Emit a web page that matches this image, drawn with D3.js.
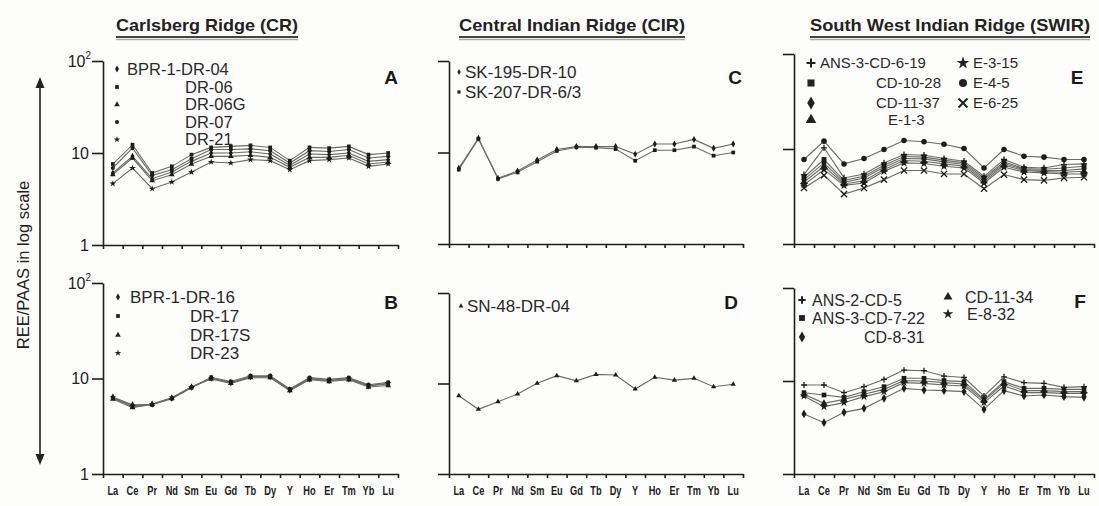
<!DOCTYPE html>
<html><head><meta charset="utf-8">
<script src="https://cdn.jsdelivr.net/npm/d3@7"></script>
<style>html,body{margin:0;padding:0;background:#fdfdfb;}svg{display:block;}</style>
</head><body>
<svg id="chart" width="1099" height="506"></svg>
<script>
// ---------------- DATA ----------------
const elements = ["La","Ce","Pr","Nd","Sm","Eu","Gd","Tb","Dy","Y","Ho","Er","Tm","Yb","Lu"];
const yTickValues = [1, 10, 100];
const titles = ["Carlsberg Ridge (CR)", "Central Indian Ridge (CIR)", "South West Indian Ridge (SWIR)"];
const yAxisTitle = "REE/PAAS in log scale";

// Panel A – Carlsberg Ridge
const namesA = ["BPR-1-DR-04","DR-06","DR-06G","DR-07","DR-21"];
const symbolsA = ["diamond","square","triangle","circle","star"];
const valuesA = [
  [6.06,9.2,5.26,6.21,8.11,10.0,10.0,10.3,9.75,7.35,9.75,9.6,10.0,8.11,8.47],
  [7.59,12.3,6.06,7.16,9.6,11.5,11.8,12.1,11.5,8.26,11.5,11.3,11.8,9.6,10.0],
  [5.82,8.8,5.0,5.81,7.59,9.2,9.2,9.44,8.97,6.98,8.97,8.97,9.44,7.59,7.98],
  [6.87,11.3,5.72,6.59,8.68,10.9,10.9,11.1,10.6,7.79,10.6,10.4,10.9,8.82,9.2],
  [4.64,6.87,4.09,4.84,6.21,7.98,7.79,8.47,8.26,6.59,8.26,8.47,8.82,7.16,7.59]
];
// Panel B – Carlsberg Ridge
const namesB = ["BPR-1-DR-16","DR-17","DR-17S","DR-23"];
const symbolsB = ["diamond","square","triangle","star"];
const valuesB = [
  [6.4,5.3,5.37,6.2,8.09,10.05,9.04,10.4,10.4,7.58,9.88,9.48,9.88,8.35,8.75],
  [6.25,5.07,5.3,6.15,8.0,10.3,9.3,10.7,10.7,7.75,10.2,9.8,10.2,8.6,9.1],
  [6.1,4.95,5.37,6.25,8.2,9.9,8.9,10.2,10.2,7.45,9.7,9.3,9.7,8.15,8.45],
  [6.3,5.15,5.4,6.3,8.15,10.1,9.1,10.5,10.5,7.65,10.0,9.6,10.0,8.45,8.9]
];
// Panel C – Central Indian Ridge
const namesC = ["SK-195-DR-10","SK-207-DR-6/3"];
const symbolsC = ["diamond","square"];
const valuesC = [
  [6.72,14.3,5.22,6.28,8.28,10.8,11.6,11.6,11.6,9.6,12.4,12.4,13.9,11.1,12.4],
  [6.5,14.1,5.15,6.07,7.94,10.4,11.4,11.3,10.9,8.13,10.6,10.6,11.6,9.23,10.0]
];
// Panel D – Central Indian Ridge
const namesD = ["SN-48-DR-04"];
const symbolsD = ["triangle"];
const valuesD = [
  [7.33,5.19,6.3,7.65,10.05,12.2,10.7,12.6,12.4,8.7,11.7,10.9,11.4,9.22,9.8]
];
// Panel E – South West Indian Ridge
const namesE = ["ANS-3-CD-6-19","CD-10-28","CD-11-37","E-1-3","E-3-15","E-4-5","E-6-25"];
const symbolsE = ["plus","square","diamond","triangle","star","circle","x"];
const valuesE = [
  [5.38,10.3,4.96,5.46,7.14,8.75,8.61,7.94,7.44,5.16,7.75,6.42,6.32,6.86,6.97],
  [5.04,7.75,4.68,5.16,6.75,8.34,8.21,7.63,7.14,4.96,7.32,6.22,6.12,6.32,6.58],
  [4.76,7.14,4.46,4.96,6.42,7.94,7.87,7.32,6.86,4.76,7.03,6.07,5.93,5.93,6.17],
  [4.50,6.58,4.28,4.64,6.07,7.56,7.44,6.97,6.58,4.57,6.75,5.93,5.78,5.69,5.83],
  [4.21,6.07,4.14,4.39,5.83,7.14,7.03,6.58,6.32,4.39,6.42,5.73,5.60,5.46,5.46],
  [7.75,12.1,6.97,7.94,9.88,12.3,11.9,11.2,10.1,6.32,9.88,8.40,8.21,7.75,7.75],
  [3.88,5.29,3.35,3.88,4.76,5.93,5.93,5.46,5.46,3.82,5.38,4.76,4.68,4.96,5.04]
];
// Panel F – South West Indian Ridge
const namesF = ["ANS-2-CD-5","ANS-3-CD-7-22","CD-8-31","CD-11-34","E-8-32"];
const symbolsF = ["plus","square","diamond","triangle","star"];
const valuesF = [
  [9.06,9.06,7.49,8.69,10.4,13.1,12.9,11.3,10.9,6.90,11.1,9.6,9.44,8.55,8.69],
  [7.49,7.07,6.67,7.68,8.69,10.7,10.7,10.1,9.84,6.35,9.84,8.34,8.34,8.13,8.13],
  [4.42,3.56,4.60,5.08,6.51,8.34,8.0,7.87,7.68,4.96,7.87,6.90,7.07,6.79,6.67],
  [7.19,5.75,6.35,7.19,8.13,10.1,10.0,9.6,9.29,6.15,9.44,7.87,7.87,7.68,7.68],
  [6.90,5.30,5.85,6.79,7.68,9.6,9.44,9.06,8.84,5.85,8.84,7.49,7.49,7.37,7.37]
];

// ---------------- LAYOUT ----------------
const FONT = "'Liberation Sans', Arial, Helvetica, sans-serif";
const panels = [
  {id:"A", names:namesA, syms:symbolsA, vals:valuesA, x0:103, x1:398, yt:61, yb:245, yLabels:true, xLabels:false,
   letter:[391,77], fs:16.5, legSym:14, markSize:14,
   legend:[[117,69,127],[117,87,185],[117,104.5,185],[117,122,185],[117,139.5,185]]},
  {id:"B", names:namesB, syms:symbolsB, vals:valuesB, x0:103, x1:398, yt:283, yb:474, yLabels:true, xLabels:true,
   letter:[391,302], fs:17, legSym:14, markSize:14,
   legend:[[118,297,130],[118,316,190],[118,335,190],[118,353,190]]},
  {id:"C", names:namesC, syms:symbolsC, vals:valuesC, x0:449, x1:743, yt:61, yb:244, yLabels:false, xLabels:false,
   letter:[735,77], fs:17, legSym:10, markSize:14,
   legend:[[459,72,465],[459,92,465]]},
  {id:"D", names:namesD, syms:symbolsD, vals:valuesD, x0:449, x1:743, yt:293, yb:474, yLabels:false, xLabels:true,
   letter:[731,302], fs:17, legSym:10, markSize:12,
   legend:[[461,306,467]]},
  {id:"E", names:namesE, syms:symbolsE, vals:valuesE, x0:794, x1:1094, yt:54, yb:244, yLabels:false, xLabels:false,
   letter:[1077,77], fs:15, legSym:50, markSize:24,
   legend:[[811,63,820],[811,83,876],[811,103,876],[811,120,888],[963,63,973],[963,83,973],[963,103,973]]},
  {id:"F", names:namesF, syms:symbolsF, vals:valuesF, x0:794, x1:1094, yt:288, yb:474, yLabels:false, xLabels:true,
   letter:[1080,301], fs:16, legSym:34, markSize:22,
   legend:[[802,300,812],[802,318,812],[802,337,864],[948,297,965],[948,314,967]]}
];
const titlePos = [{cx:207, w:182}, {cx:572, w:226}, {cx:950, w:280}];

// ---------------- DRAW ----------------
const svg = d3.select("#chart");
svg.append("rect").attr("width",1099).attr("height",506).attr("fill","#fdfdfb");

const xType = {draw(c, s){const r = Math.sqrt(s)/2; c.moveTo(-r,-r); c.lineTo(r,r); c.moveTo(r,-r); c.lineTo(-r,r);}};
const plusType = {draw(c, s){const r = Math.sqrt(s)/2; c.moveTo(-r,0); c.lineTo(r,0); c.moveTo(0,-r); c.lineTo(0,r);}};
const symMap = {
  diamond:{t:d3.symbolDiamond, stroke:false}, square:{t:d3.symbolSquare, stroke:false},
  triangle:{t:d3.symbolTriangle, stroke:false}, circle:{t:d3.symbolCircle, stroke:false},
  star:{t:d3.symbolStar, stroke:false}, plus:{t:plusType, stroke:true}, x:{t:xType, stroke:true}
};
function drawSymbol(g, name, size, x, y, color){
  const m = symMap[name];
  const s = m.stroke ? size*1.6 : size;
  const p = g.append("path").attr("d", d3.symbol().type(m.t).size(s)()).attr("transform", `translate(${x},${y})`);
  if (m.stroke) p.attr("fill","none").attr("stroke",color).attr("stroke-width", size > 30 ? 2 : 1.3);
  else p.attr("fill",color);
}

// titles
titles.forEach((t, i) => {
  const tp = titlePos[i];
  svg.append("text").attr("x", tp.cx).attr("y", 31).attr("text-anchor","middle")
    .attr("font-family", FONT).attr("font-weight","bold").attr("font-size",17)
    .attr("textLength", tp.w).attr("lengthAdjust","spacingAndGlyphs").attr("fill","#222").text(t);
  svg.append("line").attr("x1", tp.cx - tp.w/2).attr("x2", tp.cx + tp.w/2).attr("y1",37).attr("y2",37)
    .attr("stroke","#444").attr("stroke-width",2);
  svg.append("line").attr("x1", tp.cx - tp.w/2).attr("x2", tp.cx + tp.w/2).attr("y1",39.5).attr("y2",39.5)
    .attr("stroke","#aaa").attr("stroke-width",1.5);
});

// y axis title + double arrow
svg.append("text").attr("transform","translate(29,265) rotate(-90)").attr("text-anchor","middle")
  .attr("font-family", FONT).attr("font-size",16.5).attr("fill","#222").text(yAxisTitle);
svg.append("line").attr("x1",40).attr("x2",40).attr("y1",86).attr("y2",456).attr("stroke","#222").attr("stroke-width",1.6);
svg.append("path").attr("d","M40,77 L35.5,88 L44.5,88 Z").attr("fill","#222");
svg.append("path").attr("d","M40,465 L35.5,454 L44.5,454 Z").attr("fill","#222");

panels.forEach(p => {
  const g = svg.append("g");
  const x = d3.scaleBand().domain(elements).range([p.x0, p.x1]);
  const xe = d3.scaleLinear().domain([0, elements.length]).range([p.x0, p.x1]);
  const y = d3.scaleLog().domain([1, 100]).range([p.yb, p.yt]);
  const cx = e => x(e) + x.bandwidth()/2;

  // x axis (ticks at band edges)
  const xa = g.append("g").attr("transform", `translate(0,${p.yb})`)
    .call(d3.axisBottom(xe).tickValues(d3.range(0, elements.length + 1)).tickSize(4).tickSizeOuter(0).tickFormat(""));
  xa.selectAll("path,line").attr("stroke","#1e1e1e").attr("stroke-width",1.6);

  // y axis
  const ya = g.append("g").attr("transform", `translate(${p.x0},0)`)
    .call(d3.axisLeft(y).tickValues(yTickValues).tickSize(11).tickSizeOuter(0).tickFormat(""));
  ya.selectAll("path,line").attr("stroke","#1e1e1e").attr("stroke-width",1.6);

  if (p.yLabels) {
    yTickValues.forEach(v => {
      const t = g.append("text").attr("x", p.x0 - 14).attr("y", y(v)).attr("dy","0.36em")
        .attr("text-anchor","end").attr("font-family", FONT).attr("font-size",16).attr("fill","#222");
      if (v === 100) {
        t.append("tspan").text("10");
        t.append("tspan").attr("font-size",10).attr("dy","-0.75em").text("2");
        t.attr("x", p.x0 - 12);
      } else {
        t.text(String(v));
      }
    });
  }

  if (p.xLabels) {
    elements.forEach(e => {
      g.append("text").attr("transform", `translate(${cx(e)},${p.yb + 21}) scale(0.74,1)`)
        .attr("text-anchor","middle").attr("font-family", FONT).attr("font-weight","bold")
        .attr("font-size",12.5).attr("fill","#222").text(e);
    });
  }

  // lines
  const line = d3.line().x((v, i) => cx(elements[i])).y(v => y(v));
  p.vals.forEach(vals => {
    g.append("path").attr("d", line(vals)).attr("fill","none").attr("stroke","#6a6a6a").attr("stroke-width",1.1);
  });
  // markers
  p.vals.forEach((vals, si) => {
    vals.forEach((v, i) => drawSymbol(g, p.syms[si], p.markSize, cx(elements[i]), y(v), "#1c1c1c"));
  });

  // legend
  p.names.forEach((n, i) => {
    const L = p.legend[i];
    drawSymbol(g, p.syms[i], p.legSym, L[0], L[1], "#222");
    g.append("text").attr("x", L[2]).attr("y", L[1]).attr("dy","0.36em")
      .attr("font-family", FONT).attr("font-size", p.fs).attr("fill","#2a2a2a").text(n);
  });

  // panel letter
  g.append("text").attr("x", p.letter[0]).attr("y", p.letter[1]).attr("dy","0.36em").attr("text-anchor","middle")
    .attr("font-family", FONT).attr("font-weight","bold").attr("font-size",19).attr("fill","#1a1a1a").text(p.id);
});
</script>
</body></html>
